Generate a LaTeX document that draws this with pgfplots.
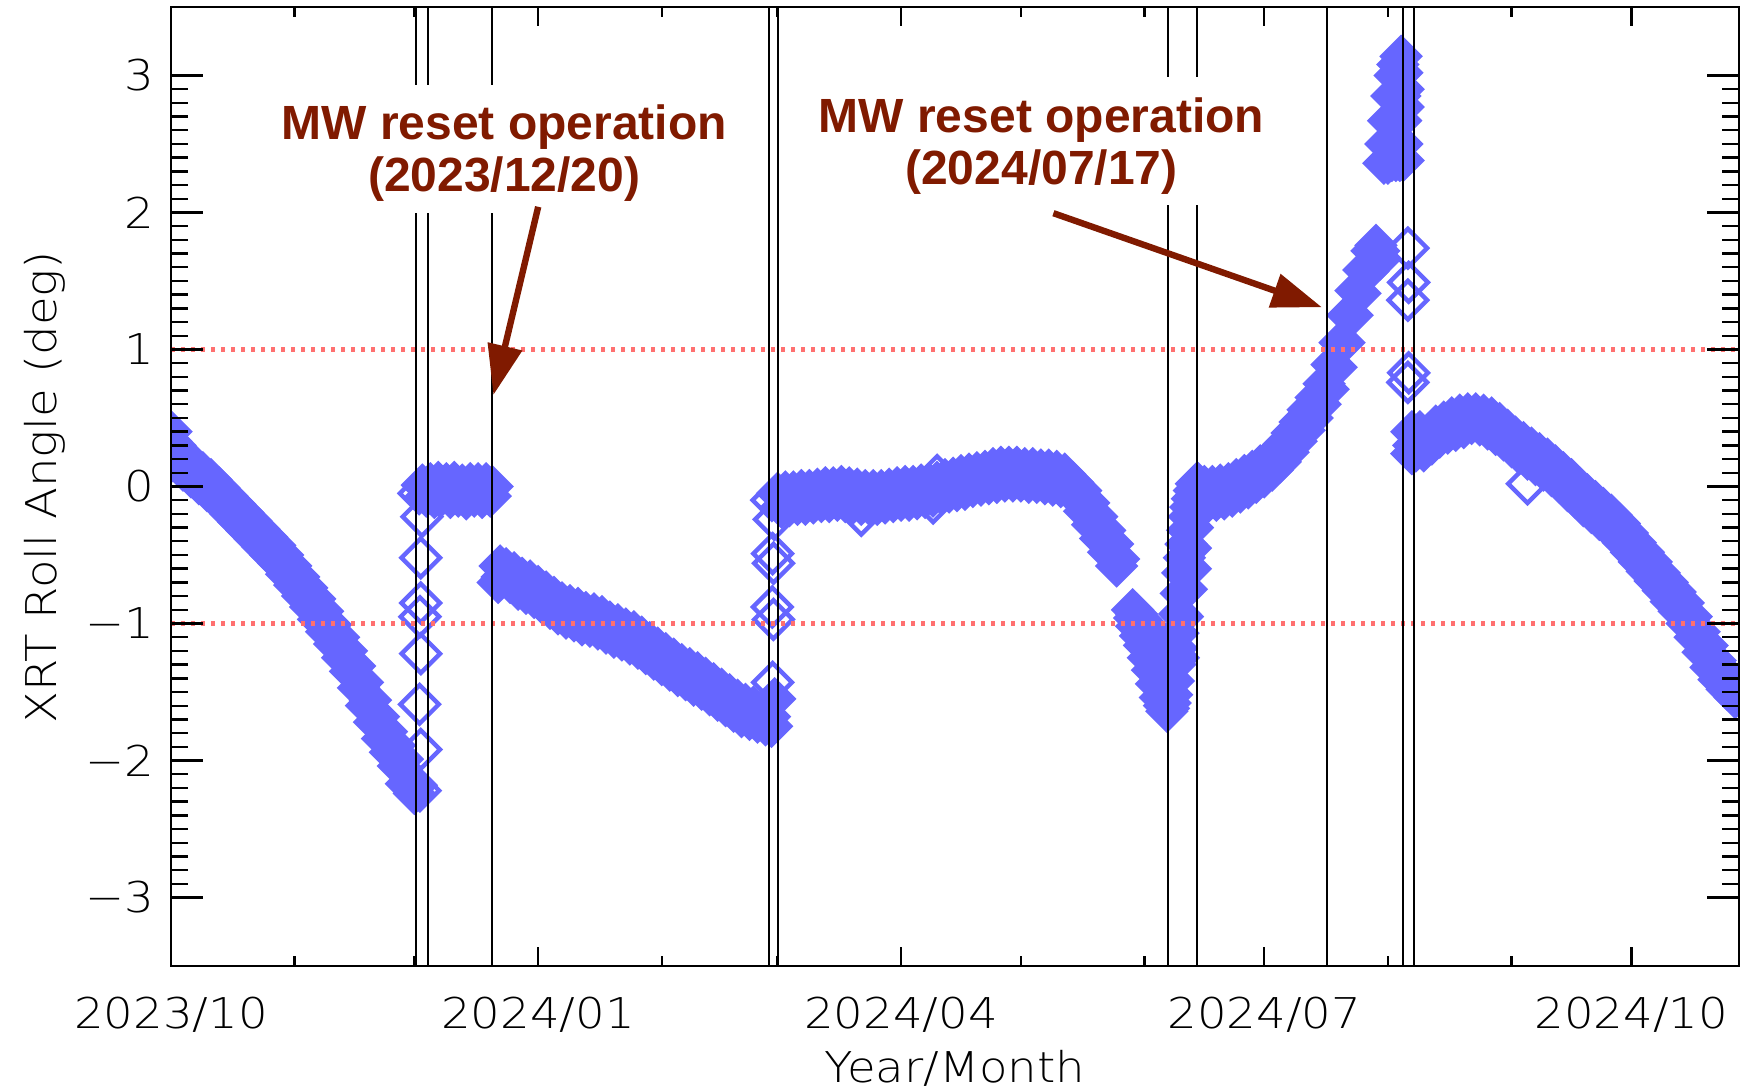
\documentclass[border=0pt]{standalone}
\usepackage{pgfplots}
\pgfplotsset{compat=1.18}
\usepackage{fontspec}
\usetikzlibrary{arrows.meta}
\IfFontExistsTF{DejaVu Sans ExtraLight}{\newfontfamily\idl[FakeStretch=1.1]{DejaVu Sans ExtraLight}}{\newfontfamily\idl[FakeStretch=1.1]{DejaVu Sans}}
\newfontfamily\ann{Liberation Sans}
\definecolor{ptblue}{RGB}{102,102,255}
\definecolor{annred}{RGB}{128,26,0}
\definecolor{limred}{RGB}{255,112,112}
\newcommand{\idlsize}{\idl\fontsize{10.6}{12}\selectfont}
\pgfplotstableread{
x y
0 0.40
0 0.18
0 0.33
1 0.30
1 0.19
2 0.25
3 0.12
4 0.19
5 0.07
6 0.15
7 0.02
8 0.10
9 -0.03
10 0.05
11 -0.08
12 -0.01
13 -0.14
14 -0.07
15 -0.20
16 -0.13
17 -0.26
18 -0.19
19 -0.32
20 -0.25
21 -0.38
22 -0.31
23 -0.44
24 -0.37
25 -0.50
26 -0.43
27 -0.56
28 -0.50
29 -0.64
30 -0.58
31 -0.72
32 -0.66
33 -0.80
34 -0.74
35 -0.88
36 -0.82
37 -0.97
38 -0.91
39 -1.06
40 -1.01
41 -1.15
42 -1.10
43 -1.25
44 -1.20
45 -1.35
46 -1.31
47 -1.47
48 -1.43
49 -1.60
50 -1.56
51 -1.72
52 -1.68
53 -1.84
54 -1.79
55 -1.94
56 -1.89
57 -2.04
58 -1.99
59 -2.17
60 -2.15
61 -2.24
61.5 -2.18
63 0.01
64 -0.07
65 0.02
66 -0.08
67 0.03
68 -0.06
69 0.02
70 -0.08
71 0.03
72 -0.07
73 0.01
74 -0.09
75 0.02
76 -0.07
77 0.02
78 -0.08
79 0.02
80 -0.07
80.5 0.00
82 -0.70
82.5 -0.58
83 -0.66
84 -0.60
85 -0.70
86 -0.63
87 -0.75
88 -0.67
89 -0.78
90 -0.69
91 -0.81
92 -0.73
93 -0.85
94 -0.77
95 -0.89
96 -0.81
97 -0.93
98 -0.85
99 -0.96
100 -0.87
101 -0.98
102 -0.89
103 -1.01
104 -0.92
105 -1.02
106 -0.93
107 -1.04
108 -0.95
109 -1.07
110 -0.99
111 -1.10
112 -1.01
113 -1.12
114 -1.04
115 -1.15
116 -1.06
117 -1.18
118 -1.10
119 -1.22
120 -1.14
121 -1.26
122 -1.18
123 -1.30
124 -1.22
125 -1.34
126 -1.26
127 -1.38
128 -1.30
129 -1.41
130 -1.33
131 -1.45
132 -1.36
133 -1.48
134 -1.40
135 -1.52
136 -1.44
137 -1.56
138 -1.48
139 -1.60
140 -1.52
141 -1.64
142 -1.56
143 -1.68
144 -1.59
145 -1.70
146 -1.61
147 -1.72
148 -1.64
149 -1.74
150 -1.68
150.5 -1.75
151.3 -1.55
152 -0.05
153 -0.15
154 -0.04
155 -0.14
156 -0.04
157 -0.13
158 -0.03
159 -0.13
160 -0.03
161 -0.12
162 -0.02
163 -0.11
164 -0.01
165 -0.11
166 -0.01
167 -0.10
168 0.00
169 -0.11
170 -0.01
171 -0.12
172 -0.02
173 -0.13
174 -0.03
175 -0.13
176 -0.03
177 -0.13
178 -0.03
179 -0.12
180 -0.02
181 -0.11
182 -0.01
183 -0.10
184 0.00
185 -0.10
186 0.00
187 -0.09
188 0.01
189 -0.08
190 0.02
191 -0.07
192 0.03
193 -0.05
194 0.05
195 -0.04
196 0.06
197 -0.03
198 0.08
199 -0.02
200 0.09
201 0.00
202 0.10
203 0.01
204 0.11
205 0.02
206 0.13
207 0.03
208 0.14
209 0.04
210 0.14
211 0.04
212 0.14
213 0.04
214 0.13
215 0.03
216 0.13
217 0.03
218 0.12
219 0.02
220 0.12
221 0.01
222 0.11
223 0.00
224 0.09
225 -0.02
226 0.03
227 -0.08
228 -0.03
229 -0.18
230 -0.12
231 -0.28
232 -0.22
233 -0.38
234 -0.32
235 -0.48
236 -0.42
237 -0.58
237.5 -0.53
241 -0.90
241.5 -0.96
242 -0.93
242 -1.02
243 -0.97
243 -1.09
244 -1.00
244 -1.16
245 -1.03
245 -1.25
246 -1.07
246 -1.34
246.5 -1.20
247 -1.12
247 -1.44
247.5 -1.30
248 -1.20
248 -1.54
248.5 -1.40
249 -1.40
249 -1.60
249.6 -1.64
250.0 -1.62
250.4 -1.58
250.8 -1.52
251.2 -1.42
251.6 -1.30
252.0 -1.18
252.4 -1.07
252.8 -0.93
253.2 -0.78
253.6 -0.63
254.0 -0.52
254.4 -0.42
254.8 -0.32
255.2 -0.22
255.6 -0.15
256.0 -0.09
256.5 -0.03
257 0.02
255.5 -0.45
256 -0.30
255.5 -0.60
254.5 -0.75
253.5 -0.95
252.5 -1.25
257.5 0.02
258 -0.10
259 0.00
260 -0.11
261 0.00
262 -0.10
263 0.01
264 -0.09
265 0.02
266 -0.07
267 0.05
268 -0.04
269 0.08
270 -0.01
271 0.11
272 0.03
273 0.15
274 0.07
275 0.19
276 0.12
277 0.25
278 0.18
279 0.31
280 0.25
281 0.39
282 0.33
283 0.47
284 0.41
285 0.56
286 0.50
287 0.65
288 0.60
289 0.75
290 0.71
291 0.89
292 0.87
293 1.05
294 1.05
295 1.25
296 1.25
297 1.43
298 1.41
299 1.58
300 1.57
301 1.72
302 1.76
302.7 1.72
303 1.66
304 2.36
305 2.36
306 2.38
307 2.38
308 2.38
308.8 2.38
304.5 2.50
305.5 2.50
306.5 2.50
307.5 2.50
308.5 2.50
305.2 2.67
306.2 2.67
307.2 2.67
308.2 2.67
308.8 2.77
306 2.85
307 2.85
308 2.85
308.8 2.90
306.8 3.00
307.6 3.00
308.5 3.02
307.5 3.08
308.3 3.14
311 0.40
311 0.24
311.5 0.30
312 0.26
313 0.40
314 0.26
315 0.38
316 0.31
317 0.44
318 0.36
319 0.47
320 0.39
321 0.50
322 0.41
323 0.52
324 0.43
325 0.53
326 0.46
327 0.53
328 0.45
329 0.52
330 0.42
331 0.50
332 0.38
333 0.46
334 0.34
335 0.41
336 0.29
337 0.36
338 0.24
339 0.32
340 0.20
341 0.28
342 0.16
343 0.24
344 0.12
345 0.20
346 0.08
347 0.15
348 0.03
349 0.10
350 -0.03
351 0.05
352 -0.08
353 -0.01
354 -0.14
355 -0.06
356 -0.19
357 -0.11
358 -0.24
359 -0.16
360 -0.29
361 -0.21
362 -0.34
363 -0.27
364 -0.41
365 -0.34
366 -0.48
367 -0.41
368 -0.55
369 -0.48
370 -0.62
371 -0.55
372 -0.69
373 -0.63
374 -0.76
375 -0.70
376 -0.84
377 -0.77
378 -0.91
379 -0.85
380 -1.00
381 -0.95
382 -1.10
383 -1.06
384 -1.21
385 -1.16
386 -1.32
387 -1.27
388 -1.41
389 -1.35
390 -1.48
391 -1.41
392 -1.54
393 -1.47
394 -1.60
395 -1.52
}\bandtable
\pgfplotstableread{
x y
62.4 -2.22
62.6 -1.92
62.3 -1.59
62.6 -1.22
62.4 -0.95
62.6 -0.85
62.6 -0.52
62.9 -0.22
62.2 -0.05
150.8 -1.43
151 -0.97
150.7 -0.88
151 -0.56
150.8 -0.49
151.2 -0.24
150.6 -0.10
173 -0.21
191 -0.12
192 0.08
310 1.74
310.2 1.49
310 1.36
310.2 0.83
310 0.76
340 0.02
}\sparsetable
\begin{document}
\begin{tikzpicture}
\useasboundingbox (-42.75pt,-31.25pt) rectangle (392.5pt,241.5pt);
\begin{axis}[
 at={(0,0)}, anchor=south west,
 width=392pt, height=239.75pt, scale only axis,
 xmin=0, xmax=393, ymin=-3.5, ymax=3.5,
 axis line style={line width=0.6pt},
 xtick={0,92,183,274,366},
 xticklabels={2023/10,2024/01,2024/04,2024/07,2024/10},
 minor xtick={31,61,123,152,213,244,305,336},
 ytick=\empty,
 tick align=inside, xtick pos=both,
 major tick length=4.75pt, minor tick length=2.5pt,
 tick style={black, line width=0.6pt},
 xticklabel style={font=\idlsize, anchor=base, inner sep=0pt, yshift=-15.6pt},
 clip marker paths=true,
]
\addplot[only marks, mark=square*, mark size=3.6pt, color=ptblue, mark options={rotate=45, line width=0.5pt, fill=ptblue}] table {\bandtable};
\addplot[only marks, mark=square, mark size=3.4pt, color=ptblue, mark options={rotate=45, line width=1.1pt}] table {\sparsetable};
\draw[limred, line width=1.2pt, dash pattern=on 1.1pt off 1.4pt] (axis cs:0,1) -- (axis cs:393,1);
\draw[limred, line width=1.2pt, dash pattern=on 1.1pt off 1.4pt] (axis cs:0,-1) -- (axis cs:393,-1);
\pgfplotsinvokeforeach{61.3,64.3,80.4,150.0,152.1,250.0,257.1,289.7,308.8,311.6}{
 \draw[black, line width=0.5pt] (axis cs:#1,-3.5) -- (axis cs:#1,3.5);
}
\end{axis}
\begin{axis}[
 at={(0,0)}, anchor=south west,
 width=392pt, height=239.75pt, scale only axis,
 xmin=0, xmax=393, ymin=-3.5, ymax=3.5,
 axis line style={line width=0.6pt},
 xtick=\empty,
 ytick={-3,-2,-1,0,1,2,3},
 yticklabels={−3,−2,−1,0,1,2,3},
 minor y tick num=9,
 tick align=inside, ytick pos=both,
 major tick length=8pt, minor tick length=4.25pt,
 tick style={black, line width=0.6pt},
 yticklabel style={font=\idlsize, anchor=east, inner sep=0pt, xshift=-4pt},
]
\end{axis}
\node[rotate=90, anchor=south, inner sep=0pt, font=\idlsize] at (-26.1pt,119.7pt) {XRT Roll Angle (deg)};
\node[anchor=base, inner sep=0pt, font=\idlsize] at (196pt,-29pt) {Year/Month};
\fill[white] (26pt,188.25pt) rectangle (140.5pt,220.25pt);
\fill[white] (160pt,190.25pt) rectangle (275.25pt,222.25pt);
\node[anchor=base, inner sep=0pt, text=annred, font=\ann\bfseries\fontsize{12}{14}\selectfont] at (83.3pt,206.5pt) {MW reset operation};
\node[anchor=base, inner sep=0pt, text=annred, font=\ann\bfseries\fontsize{12}{14}\selectfont] at (83.3pt,193.6pt) {(2023/12/20)};
\node[anchor=base, inner sep=0pt, text=annred, font=\ann\bfseries\fontsize{12}{14}\selectfont] at (217.6pt,208.3pt) {MW reset operation};
\node[anchor=base, inner sep=0pt, text=annred, font=\ann\bfseries\fontsize{12}{14}\selectfont] at (217.6pt,195.3pt) {(2024/07/17)};
\draw[annred, line width=1.6pt, -{Triangle[length=12.5pt,width=8.5pt]}] (91.8pt,189.8pt) -- (80.6pt,142.75pt);
\draw[annred, line width=1.6pt, -{Triangle[length=12.5pt,width=8.5pt]}] (220.6pt,188.2pt) -- (287.7pt,164.7pt);
\end{tikzpicture}
\end{document}
